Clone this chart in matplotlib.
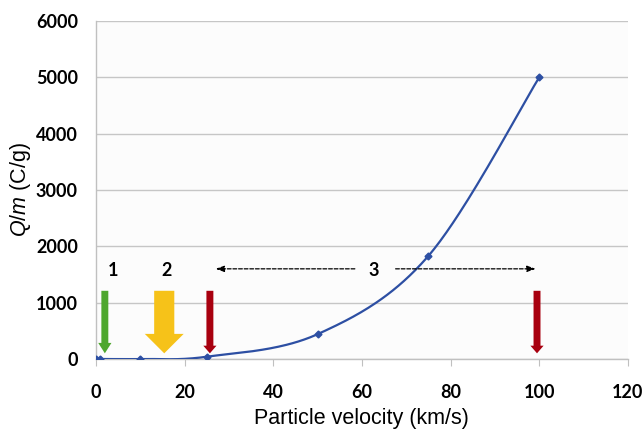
import numpy as np
import matplotlib
matplotlib.use('Agg')
import matplotlib.pyplot as plt

plt.rcParams['mathtext.fontset'] = 'custom'
plt.rcParams['mathtext.it'] = 'Liberation Sans:italic'
plt.rcParams['mathtext.rm'] = 'Liberation Sans'

# data
velocity = [0, 1, 10, 25, 50, 75, 100]
charge = [0, 0, 0, 40, 440, 1830, 5000]

x_ticks = [0, 20, 40, 60, 80, 100, 120]
y_ticks = [0, 1000, 2000, 3000, 4000, 5000, 6000]

# marker arrows: (x, colour, shaft, head width, head length) sizes in points
arrows = [
    (2.0, '#4ea72e', 0.5, 0.95, 0.75),
    (15.4, '#f6c219', 1.45, 2.8, 1.4),
    (25.7, '#a8000f', 0.5, 0.95, 0.55),
    (99.5, '#a8000f', 0.5, 0.95, 0.55),
]
labels = [('1', 3.8), ('2', 16.0), ('3', 62.6)]
arrow_top, arrow_tip = 1210, 100
range3 = (27.0, 99.2)
range3_gap = (58.4, 67.6)
label_y = 1570


def smooth(xs, ys, n=60):
    # excel-like smoothed line (catmull-rom bezier)
    xs = np.asarray(xs, float)
    ys = np.asarray(ys, float)
    px = np.concatenate([[xs[0]], xs, [xs[-1]]])
    py = np.concatenate([[ys[0]], ys, [ys[-1]]])
    ox, oy = [], []
    t = np.linspace(0, 1, n)
    for i in range(1, len(px) - 2):
        p0 = np.array([px[i], py[i]])
        p3 = np.array([px[i + 1], py[i + 1]])
        p1 = p0 + (np.array([px[i + 1], py[i + 1]]) - np.array([px[i - 1], py[i - 1]])) / 6
        p2 = p3 - (np.array([px[i + 2], py[i + 2]]) - np.array([px[i], py[i]])) / 6
        b = ((1 - t) ** 3)[:, None] * p0 + (3 * (1 - t) ** 2 * t)[:, None] * p1 \
            + (3 * (1 - t) * t ** 2)[:, None] * p2 + (t ** 3)[:, None] * p3
        ox.extend(b[:, 0])
        oy.extend(b[:, 1])
    return np.array(ox), np.array(oy)


fig = plt.figure(figsize=(6.42, 4.33), dpi=100)
fig.patch.set_facecolor('white')
ax = fig.add_axes([0.1495, 0.171, 0.8285, 0.7805])
ax.set_facecolor('#fcfcfc')

sx, sy = smooth(velocity, charge)
ax.plot(sx, sy, color='#2d4fa3', lw=1.6, zorder=3)
ax.plot(velocity, charge, ls='none', marker='D', ms=3.5, color='#2d4fa3', zorder=4)

for x, c, tw, hw, hl in arrows:
    ax.annotate('', xy=(x, arrow_tip), xytext=(x, arrow_top),
                arrowprops=dict(arrowstyle='simple,tail_width=%g,head_width=%g,head_length=%g' % (tw, hw, hl),
                                color=c, lw=0, mutation_scale=10, shrinkA=0, shrinkB=0),
                zorder=5)

for end, start in [(range3[0], range3_gap[0]), (range3[1], range3_gap[1])]:
    ax.annotate('', xy=(end, 1600), xytext=(start, 1600),
                arrowprops=dict(arrowstyle='-|>,head_width=0.18,head_length=0.5', color='black',
                                lw=0.9, ls=(0, (3, 1.5)), shrinkA=0, shrinkB=0),
                zorder=5)

for s, x in labels:
    ax.text(x, label_y, s, ha='center', va='center', fontsize=13, fontweight='bold',
            family='Lato', zorder=6)

ax.set_xlim(0, 120)
ax.set_ylim(0, 6000)
ax.set_xticks(x_ticks)
ax.set_yticks(y_ticks)
ax.set_xticklabels([str(v) for v in x_ticks], fontsize=13, fontweight='bold', family='Lato')
ax.set_yticklabels([str(v) for v in y_ticks], fontsize=13, fontweight='bold', family='Lato')
ax.tick_params(axis='y', length=0, pad=13)
ax.tick_params(axis='x', length=5, color='#c0c0c0', pad=13)
ax.grid(axis='y', color='#c6c6c6', lw=1)
ax.set_axisbelow(True)
for s in ['top', 'right']:
    ax.spines[s].set_visible(False)
for s in ['left', 'bottom']:
    ax.spines[s].set_color('#c0c0c0')
    ax.spines[s].set_linewidth(1)
ax.spines['bottom'].set_zorder(1)

ax.set_xlabel('Particle velocity (km/s)', fontsize=15.5, family='Liberation Sans', labelpad=5)
ax.set_ylabel('$\\it{Q/m}$ (C/g)', fontsize=15.5, family='Liberation Sans', labelpad=2)

fig.savefig('out.png', dpi=100)
